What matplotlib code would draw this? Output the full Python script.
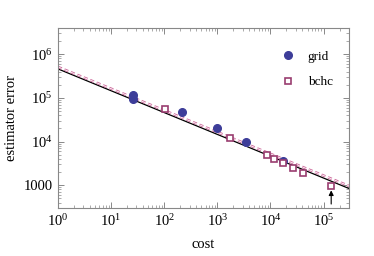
import matplotlib
matplotlib.use("Agg")
import matplotlib.pyplot as plt
from matplotlib.ticker import FixedLocator, FixedFormatter, LogLocator, NullFormatter

plt.rcParams['font.family'] = ['Liberation Serif', 'DejaVu Serif']
plt.rcParams['mathtext.fontset'] = 'custom'
plt.rcParams['mathtext.rm'] = 'Liberation Serif'
plt.rcParams['mathtext.it'] = 'Liberation Serif:italic'
plt.rcParams['lines.scale_dashes'] = False

# grid estimates
grid_cost = [26, 26, 213, 1000, 3400, 17000]
grid_err = [116000, 94000, 46800, 20400, 9800, 3550]

# bchc estimates
bchc_cost = [105, 1740, 8700, 11500, 17000, 27000, 41000, 139000]
bchc_err = [55000, 12300, 4800, 3900, 3200, 2500, 1940, 980]

# fitted lines (end points)
fit_x = [1, 3e5]
fit_y = [4.6e5, 840]
fit2_y = [5.1e5, 960]

xticks = [1, 10, 100, 1e3, 1e4, 1e5]
xlabels = ['$10^0$', '$10^1$', '$10^2$', '$10^3$', '$10^4$', '$10^5$']
yticks = [1000, 1e4, 1e5, 1e6]
ylabels = ['1000', '$10^4$', '$10^5$', '$10^6$']

blue = '#3d3d99'
pink = '#993d70'
pink_light = '#cc6699'
gray = '#888888'

fig = plt.figure(figsize=(3.74, 2.56), dpi=100)
ax = fig.add_axes([0.155, 0.1875, 0.778, 0.7035])

ax.plot(fit_x, fit_y, color='black', lw=0.9, zorder=2)
ax.plot(fit_x, fit2_y, color=pink_light, lw=1.8, ls=(0, (3, 2)), zorder=2)
ax.plot(fit_x, fit2_y, color='white', lw=0.6, ls=(0, (3, 2)), zorder=2)

ax.plot(grid_cost, grid_err, 'o', color=blue, ms=5.5, ls='none', label='grid', zorder=3)
ax.plot(bchc_cost, bchc_err, 's', mfc='white', mec=pink, mew=1.2, ms=5, ls='none', label='bchc', zorder=3)

ax.annotate('', xy=(139000, 760), xytext=(139000, 370),
            arrowprops=dict(arrowstyle='-|>', color='black', lw=0.8, mutation_scale=7,
                            shrinkA=0, shrinkB=0))

ax.set_xscale('log')
ax.set_yscale('log')
ax.set_xlim(1, 3e5)
ax.set_ylim(300, 4e6)

ax.xaxis.set_major_locator(FixedLocator(xticks))
ax.xaxis.set_major_formatter(FixedFormatter(xlabels))
ax.yaxis.set_major_locator(FixedLocator(yticks))
ax.yaxis.set_major_formatter(FixedFormatter(ylabels))
ax.xaxis.set_minor_locator(LogLocator(base=10, subs=range(2, 10), numticks=20))
ax.yaxis.set_minor_locator(LogLocator(base=10, subs=range(2, 10), numticks=20))
ax.xaxis.set_minor_formatter(NullFormatter())
ax.yaxis.set_minor_formatter(NullFormatter())

ax.tick_params(which='both', direction='in', top=True, right=True, color=gray, labelsize=10.5, pad=4)
ax.tick_params(which='major', length=4, width=0.7)
ax.tick_params(which='minor', length=2, width=0.5)
for s in ax.spines.values():
    s.set_color(gray)
    s.set_linewidth(0.8)

ax.set_xlabel('cost', fontsize=10.5, labelpad=6)
ax.set_ylabel('estimator error', fontsize=10.5, labelpad=4)

ax.legend(loc='upper right', frameon=False, fontsize=9.5, handletextpad=1.0,
          labelspacing=1.0, bbox_to_anchor=(0.985, 0.94), handlelength=1.0)

fig.savefig('out.png', dpi=100)
